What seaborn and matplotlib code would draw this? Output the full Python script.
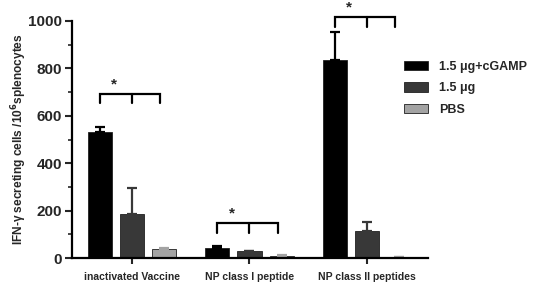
import numpy as np
import pandas as pd
import matplotlib
matplotlib.use("Agg")
import matplotlib.pyplot as plt
import seaborn as sns
from matplotlib.ticker import MultipleLocator

# data
groups = ["inactivated Vaccine", "NP class I peptide", "NP class II peptides"]
treatments = ["1.5 μg+cGAMP", "1.5 μg", "PBS"]
cgamp_mean = [530, 42, 835]
cgamp_err = [22, 8, 118]
vacc_mean = [185, 28, 115]
vacc_err = [110, 3, 35]
pbs_mean = [38, 10, 4]
pbs_err = [5, 2, 1]
colors = ["#000000", "#383838", "#a3a3a3"]

means = [cgamp_mean, vacc_mean, pbs_mean]
errs = [cgamp_err, vacc_err, pbs_err]

df = pd.DataFrame({
    "group": np.repeat([groups], 3, axis=0).ravel(),
    "treatment": np.repeat(treatments, 3),
    "value": np.concatenate(means),
    "err": np.concatenate(errs),
})

sns.set_style("white")
plt.rcParams["font.family"] = ["Liberation Sans", "DejaVu Sans"]
plt.rcParams["font.weight"] = "bold"

fig = plt.figure(figsize=(5.36, 2.83), dpi=100)
ax = fig.add_axes([0.134, 0.0883, 0.665, 0.8375])

sns.barplot(data=df, x="group", y="value", hue="treatment", order=groups,
            hue_order=treatments, palette=colors, errorbar=None, width=0.82,
            gap=0.25, edgecolor="#202020", linewidth=0.6, ax=ax)

# upward-only error bars, one per bar
for i, t in enumerate(treatments):
    cont = ax.containers[i]
    xs = [p.get_x() + p.get_width() / 2 for p in cont]
    ax.errorbar(xs, means[i], yerr=[np.zeros(3), errs[i]], fmt="none",
                ecolor=colors[i], elinewidth=1.6, capsize=3.5, capthick=1.6)

# significance brackets
brackets = [(0, 692, 655), (1, 147, 105), (2, 1017, 975)]
for gi, ytop, ybot in brackets:
    xl = gi - 0.272
    xr = gi + 0.24
    ax.plot([xl, xl, xr, xr], [ybot, ytop, ytop, ybot], color="black",
            lw=1.6, clip_on=False, solid_joinstyle="miter")
    ax.plot([gi, gi], [ytop, ybot], color="black", lw=1.6, clip_on=False)
    ax.text(gi - 0.15, ytop + 12, "*", ha="center", va="bottom",
            fontsize=11, clip_on=False)

ax.set_xlim(-0.51, 2.52)
ax.set_ylim(0, 1000)
ax.yaxis.set_major_locator(MultipleLocator(200))
ax.yaxis.set_minor_locator(MultipleLocator(100))
ax.tick_params(axis="y", which="major", length=5, width=1.5, labelsize=11,
               left=True, pad=2)
ax.tick_params(axis="y", which="minor", length=3, width=1.2, left=True)
ax.tick_params(axis="x", length=4, width=1.5, labelsize=7.5, bottom=True, pad=6)
for lab in ax.get_xticklabels() + ax.get_yticklabels():
    lab.set_fontweight("bold")

sns.despine(ax=ax)
for s in ["left", "bottom"]:
    ax.spines[s].set_linewidth(1.6)
    ax.spines[s].set_color("black")

ax.set_xlabel("")
ax.set_ylabel("IFN-γ secreting cells /10$^{\\mathbf{6}}$splenocytes",
              fontsize=8.6, fontweight="bold")
ax.yaxis.set_label_coords(-0.12, 0.5)

ax.legend(loc="upper left", bbox_to_anchor=(0.9, 0.88), frameon=False,
          handlelength=1.9, handleheight=0.8, labelspacing=0.75,
          handletextpad=0.9, prop={"weight": "bold", "size": 9})

fig.savefig("out.png", dpi=100)
